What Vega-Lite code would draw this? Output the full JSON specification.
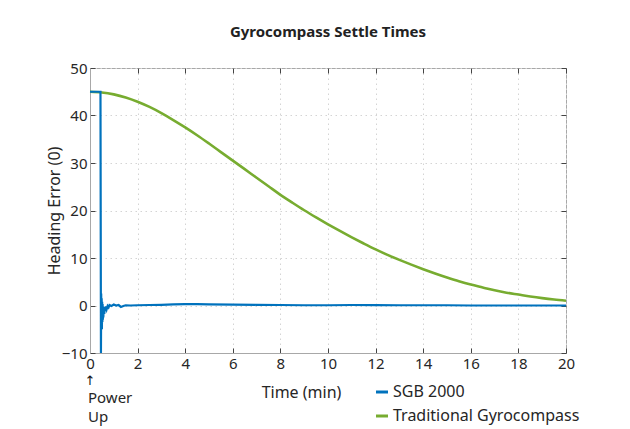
{
  "$schema": "https://vega.github.io/schema/vega-lite/v6.json",
  "autosize": "none",
  "width": 476,
  "height": 285,
  "padding": {"left": 90, "top": 68, "right": 64, "bottom": 76},
  "background": "white",
  "title": {"text": "Gyrocompass Settle Times", "fontSize": 15, "fontWeight": "bold", "font": "Noto Sans", "color": "#222222", "anchor": "middle", "offset": 21},
  "datasets": {
    "curves": [
      {"t": 0, "v": 45, "s": "SGB 2000"},
      {"t": 0.44, "v": 45, "s": "SGB 2000"},
      {"t": 0.46, "v": -10, "s": "SGB 2000"},
      {"t": 0.47, "v": 2.5, "s": "SGB 2000"},
      {"t": 0.48, "v": -4, "s": "SGB 2000"},
      {"t": 0.49, "v": 1.5, "s": "SGB 2000"},
      {"t": 0.5, "v": -5, "s": "SGB 2000"},
      {"t": 0.51, "v": 0.8, "s": "SGB 2000"},
      {"t": 0.52, "v": -3.5, "s": "SGB 2000"},
      {"t": 0.53, "v": 0.3, "s": "SGB 2000"},
      {"t": 0.54, "v": -3, "s": "SGB 2000"},
      {"t": 0.55, "v": -0.2, "s": "SGB 2000"},
      {"t": 0.56, "v": -2.5, "s": "SGB 2000"},
      {"t": 0.58, "v": -0.5, "s": "SGB 2000"},
      {"t": 0.6, "v": -1.8, "s": "SGB 2000"},
      {"t": 0.62, "v": -0.3, "s": "SGB 2000"},
      {"t": 0.64, "v": -1.2, "s": "SGB 2000"},
      {"t": 0.67, "v": -0.2, "s": "SGB 2000"},
      {"t": 0.7, "v": -0.8, "s": "SGB 2000"},
      {"t": 0.74, "v": -0.1, "s": "SGB 2000"},
      {"t": 0.78, "v": -0.4, "s": "SGB 2000"},
      {"t": 0.82, "v": 0.1, "s": "SGB 2000"},
      {"t": 0.9, "v": -0.1, "s": "SGB 2000"},
      {"t": 1.0, "v": 0.2, "s": "SGB 2000"},
      {"t": 1.1, "v": 0.0, "s": "SGB 2000"},
      {"t": 1.2, "v": 0.1, "s": "SGB 2000"},
      {"t": 1.3, "v": -0.3, "s": "SGB 2000"},
      {"t": 1.4, "v": -0.1, "s": "SGB 2000"},
      {"t": 1.5, "v": 0.05, "s": "SGB 2000"},
      {"t": 1.7, "v": 0.0, "s": "SGB 2000"},
      {"t": 2.0, "v": 0.05, "s": "SGB 2000"},
      {"t": 2.5, "v": 0.1, "s": "SGB 2000"},
      {"t": 3.0, "v": 0.15, "s": "SGB 2000"},
      {"t": 3.5, "v": 0.25, "s": "SGB 2000"},
      {"t": 4.0, "v": 0.3, "s": "SGB 2000"},
      {"t": 4.5, "v": 0.3, "s": "SGB 2000"},
      {"t": 5.0, "v": 0.25, "s": "SGB 2000"},
      {"t": 6.0, "v": 0.2, "s": "SGB 2000"},
      {"t": 7.0, "v": 0.15, "s": "SGB 2000"},
      {"t": 8.0, "v": 0.1, "s": "SGB 2000"},
      {"t": 9.0, "v": 0.05, "s": "SGB 2000"},
      {"t": 10.0, "v": 0.05, "s": "SGB 2000"},
      {"t": 11.0, "v": 0.1, "s": "SGB 2000"},
      {"t": 12.0, "v": 0.1, "s": "SGB 2000"},
      {"t": 13.0, "v": 0.05, "s": "SGB 2000"},
      {"t": 14.0, "v": 0.05, "s": "SGB 2000"},
      {"t": 15.0, "v": 0.05, "s": "SGB 2000"},
      {"t": 16.0, "v": 0.0, "s": "SGB 2000"},
      {"t": 17.0, "v": 0.0, "s": "SGB 2000"},
      {"t": 18.0, "v": 0.0, "s": "SGB 2000"},
      {"t": 19.0, "v": 0.0, "s": "SGB 2000"},
      {"t": 20.0, "v": 0.0, "s": "SGB 2000"},
      {"t": 0, "v": 45.0, "s": "Traditional Gyrocompass"},
      {"t": 0.5, "v": 44.85, "s": "Traditional Gyrocompass"},
      {"t": 1, "v": 44.45, "s": "Traditional Gyrocompass"},
      {"t": 1.5, "v": 43.8, "s": "Traditional Gyrocompass"},
      {"t": 2, "v": 42.9, "s": "Traditional Gyrocompass"},
      {"t": 2.5, "v": 41.8, "s": "Traditional Gyrocompass"},
      {"t": 3, "v": 40.5, "s": "Traditional Gyrocompass"},
      {"t": 3.5, "v": 39.05, "s": "Traditional Gyrocompass"},
      {"t": 4, "v": 37.5, "s": "Traditional Gyrocompass"},
      {"t": 4.5, "v": 35.85, "s": "Traditional Gyrocompass"},
      {"t": 5, "v": 34.1, "s": "Traditional Gyrocompass"},
      {"t": 5.5, "v": 32.3, "s": "Traditional Gyrocompass"},
      {"t": 6, "v": 30.5, "s": "Traditional Gyrocompass"},
      {"t": 6.5, "v": 28.7, "s": "Traditional Gyrocompass"},
      {"t": 7, "v": 26.9, "s": "Traditional Gyrocompass"},
      {"t": 7.5, "v": 25.1, "s": "Traditional Gyrocompass"},
      {"t": 8, "v": 23.3, "s": "Traditional Gyrocompass"},
      {"t": 8.5, "v": 21.65, "s": "Traditional Gyrocompass"},
      {"t": 9, "v": 20.05, "s": "Traditional Gyrocompass"},
      {"t": 9.5, "v": 18.55, "s": "Traditional Gyrocompass"},
      {"t": 10, "v": 17.1, "s": "Traditional Gyrocompass"},
      {"t": 10.5, "v": 15.7, "s": "Traditional Gyrocompass"},
      {"t": 11, "v": 14.35, "s": "Traditional Gyrocompass"},
      {"t": 11.5, "v": 13.05, "s": "Traditional Gyrocompass"},
      {"t": 12, "v": 11.8, "s": "Traditional Gyrocompass"},
      {"t": 12.5, "v": 10.65, "s": "Traditional Gyrocompass"},
      {"t": 13, "v": 9.6, "s": "Traditional Gyrocompass"},
      {"t": 13.5, "v": 8.6, "s": "Traditional Gyrocompass"},
      {"t": 14, "v": 7.65, "s": "Traditional Gyrocompass"},
      {"t": 14.5, "v": 6.75, "s": "Traditional Gyrocompass"},
      {"t": 15, "v": 5.9, "s": "Traditional Gyrocompass"},
      {"t": 15.5, "v": 5.1, "s": "Traditional Gyrocompass"},
      {"t": 16, "v": 4.4, "s": "Traditional Gyrocompass"},
      {"t": 16.5, "v": 3.8, "s": "Traditional Gyrocompass"},
      {"t": 17, "v": 3.2, "s": "Traditional Gyrocompass"},
      {"t": 17.5, "v": 2.7, "s": "Traditional Gyrocompass"},
      {"t": 18, "v": 2.3, "s": "Traditional Gyrocompass"},
      {"t": 18.5, "v": 1.9, "s": "Traditional Gyrocompass"},
      {"t": 19, "v": 1.55, "s": "Traditional Gyrocompass"},
      {"t": 19.5, "v": 1.25, "s": "Traditional Gyrocompass"},
      {"t": 20, "v": 1.0, "s": "Traditional Gyrocompass"}
    ],
    "note": [{"t": 0, "v": -10, "arrow": "↑", "label": ["Power", "Up"]}]
  },
  "layer": [
    {
      "data": {"name": "curves"},
      "transform": [{"filter": "datum.s === 'Traditional Gyrocompass'"}],
      "mark": {"type": "line", "strokeWidth": 2.6, "interpolate": "monotone"},
      "encoding": {
        "x": {"field": "t", "type": "quantitative", "scale": {"domain": [0, 20], "nice": false},
              "axis": {"title": "Time (min)", "values": [0,2,4,6,8,10,12,14,16,18,20], "grid": true, "titleX": 211, "titlePadding": 13}},
        "y": {"field": "v", "type": "quantitative", "scale": {"domain": [-10, 50], "nice": false},
              "axis": {"title": "Heading Error (0)", "values": [-10,0,10,20,30,40,50], "grid": true, "titlePadding": -1}},
        "color": {"field": "s", "type": "nominal",
                  "scale": {"domain": ["SGB 2000", "Traditional Gyrocompass"], "range": ["#0072BD", "#77AC30"]},
                  "legend": {"title": null, "orient": "none", "legendX": 284, "legendY": 316, "symbolType": "stroke", "symbolSize": 144, "symbolStrokeWidth": 3, "labelFontSize": 16, "labelFont": "Noto Sans", "labelColor": "#262626", "labelOffset": 3, "labelLimit": 0, "rowPadding": 8}}
      }
    },
    {
      "data": {"name": "curves"},
      "transform": [{"filter": "datum.s === 'SGB 2000'"}],
      "mark": {"type": "line", "strokeWidth": 2.2},
      "encoding": {
        "x": {"field": "t", "type": "quantitative", "axis": null},
        "y": {"field": "v", "type": "quantitative", "axis": null},
        "color": {"field": "s", "type": "nominal"}
      }
    },
    {
      "data": {"name": "curves"},
      "transform": [{"filter": "datum.s === 'SGB 2000'"}],
      "mark": {"type": "line", "opacity": 0},
      "encoding": {
        "x": {"field": "t", "type": "quantitative", "axis": {"orient": "top", "labels": false, "grid": false, "domain": false, "title": null, "values": [0,2,4,6,8,10,12,14,16,18,20]}},
        "y": {"field": "v", "type": "quantitative", "axis": {"orient": "right", "labels": false, "grid": false, "domain": false, "title": null, "values": [-10,0,10,20,30,40,50]}}
      }
    },
    {
      "data": {"name": "note"},
      "mark": {"type": "text", "align": "center", "baseline": "middle", "dy": 28, "fontSize": 13, "font": "DejaVu Sans", "color": "#111111"},
      "encoding": {
        "x": {"field": "t", "type": "quantitative", "axis": null},
        "y": {"field": "v", "type": "quantitative", "axis": null},
        "text": {"field": "arrow"}
      }
    },
    {
      "data": {"name": "note"},
      "mark": {"type": "text", "align": "left", "baseline": "middle", "dx": -2, "dy": 45, "fontSize": 15, "lineHeight": 19, "font": "Noto Sans", "color": "#262626"},
      "encoding": {
        "x": {"field": "t", "type": "quantitative", "axis": null},
        "y": {"field": "v", "type": "quantitative", "axis": null},
        "text": {"field": "label"}
      }
    }
  ],
  "resolve": {"axis": {"x": "independent", "y": "independent"}},
  "config": {
    "font": "Noto Sans",
    "view": {"stroke": "#a8a8a8", "strokeWidth": 1},
    "axis": {
      "labelFont": "Noto Sans", "labelFontSize": 15, "labelColor": "#262626",
      "titleFont": "Noto Sans", "titleFontSize": 16, "titleFontWeight": "normal", "titleColor": "#262626",
      "domainColor": "#a8a8a8", "tickColor": "#444444", "tickSize": -5, "labelPadding": 8,
      "gridColor": "#d4d4d4", "gridDash": [1.5, 3.5], "gridWidth": 1, "labelFlush": false, "labelOverlap": false
    }
  }
}
